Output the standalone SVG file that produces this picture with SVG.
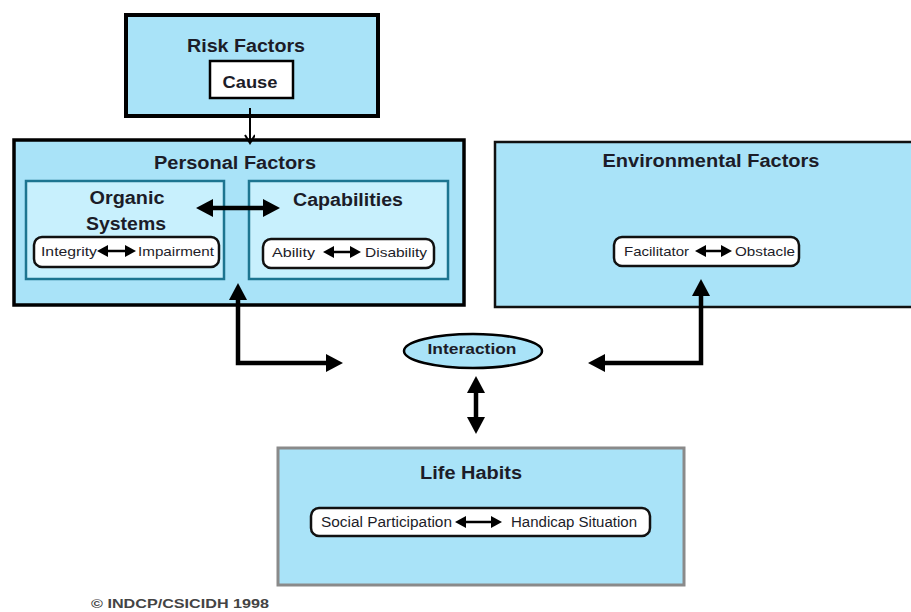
<svg xmlns="http://www.w3.org/2000/svg" width="911" height="612" viewBox="0 0 911 612">
<style>
.t{font-family:"Liberation Sans",Arial,sans-serif;font-weight:bold;fill:#1c1c28;text-anchor:middle}
.p{font-family:"Liberation Sans",Arial,sans-serif;fill:#1c1c28}
.outer{fill:#a9e3f8}
.inner{fill:#c8f0fd;stroke:#1d7590;stroke-width:2.5}
.pill{fill:#fff;stroke:#111;stroke-width:2.5}
.big{fill:none;stroke:#000;stroke-width:4.5;marker-start:url(#bh);marker-end:url(#bh)}
.sm{fill:none;stroke:#000;stroke-width:2.5;marker-start:url(#sh);marker-end:url(#sh)}
</style>
<defs>
<marker id="bh" markerUnits="userSpaceOnUse" markerWidth="18" markerHeight="20" refX="3" refY="9" orient="auto-start-reverse"><path d="M0,0 L17,9 L0,18 z" fill="#000"/></marker>
<marker id="sh" markerUnits="userSpaceOnUse" markerWidth="12" markerHeight="13" refX="2" refY="6" orient="auto-start-reverse"><path d="M0,0 L11,6 L0,12 z" fill="#000"/></marker>
<marker id="vh" markerUnits="userSpaceOnUse" markerWidth="12" markerHeight="12" refX="9" refY="5" orient="auto"><path d="M1,0 L9,5 L1,10" fill="none" stroke="#000" stroke-width="2"/></marker>
</defs>
<rect width="911" height="612" fill="#fff"/>

<g id="risk-factors">
<rect class="outer" x="126" y="15" width="252" height="101" stroke="#000" stroke-width="4"/>
<text class="t" x="246" y="52" font-size="18" textLength="118" lengthAdjust="spacingAndGlyphs">Risk Factors</text>
<g id="cause">
<rect x="210" y="61" width="83" height="37" fill="#fff" stroke="#000" stroke-width="2.5"/>
<text class="t" x="250" y="88" font-size="17" textLength="55" lengthAdjust="spacingAndGlyphs">Cause</text>
</g>
</g>

<g id="personal-factors">
<rect class="outer" x="14" y="140" width="450" height="165" stroke="#000" stroke-width="3.5"/>
<text class="t" x="235" y="169" font-size="18" textLength="162" lengthAdjust="spacingAndGlyphs">Personal Factors</text>
<g id="organic-systems">
<rect class="inner" x="26" y="181" width="198" height="98"/>
<text class="t" x="127" y="204" font-size="18" textLength="75" lengthAdjust="spacingAndGlyphs">Organic</text>
<text class="t" x="126" y="230" font-size="18" textLength="80" lengthAdjust="spacingAndGlyphs">Systems</text>
<rect class="pill" x="34" y="237" width="185" height="30" rx="8"/>
<text class="p" x="41" y="256" font-size="13" textLength="56" lengthAdjust="spacingAndGlyphs">Integrity</text>
<text class="p" x="138" y="256" font-size="13" textLength="76" lengthAdjust="spacingAndGlyphs">Impairment</text>
</g>
<g id="capabilities">
<rect class="inner" x="249" y="181" width="199" height="98"/>
<text class="t" x="348" y="206" font-size="18" textLength="110" lengthAdjust="spacingAndGlyphs">Capabilities</text>
<rect class="pill" x="263" y="239" width="171" height="29" rx="8"/>
<text class="p" x="272" y="257" font-size="13" textLength="43" lengthAdjust="spacingAndGlyphs">Ability</text>
<text class="p" x="365" y="257" font-size="13" textLength="62" lengthAdjust="spacingAndGlyphs">Disability</text>
</g>
</g>

<g id="environmental-factors">
<rect class="outer" x="495" y="142" width="430" height="165" stroke="#111" stroke-width="2.5"/>
<text class="t" x="711" y="167" font-size="18" textLength="217" lengthAdjust="spacingAndGlyphs">Environmental Factors</text>
<rect class="pill" x="614" y="237" width="185" height="29" rx="8"/>
<text class="p" x="624" y="256" font-size="13" textLength="65" lengthAdjust="spacingAndGlyphs">Facilitator</text>
<text class="p" x="735" y="256" font-size="13" textLength="60" lengthAdjust="spacingAndGlyphs">Obstacle</text>
</g>

<g id="interaction">
<ellipse cx="473" cy="351" rx="69" ry="17" fill="#a9e3f8" stroke="#000" stroke-width="2.5"/>
<text class="t" x="472" y="354" font-size="15" textLength="89" lengthAdjust="spacingAndGlyphs">Interaction</text>
</g>

<g id="life-habits">
<rect class="outer" x="278" y="448" width="406" height="137" stroke="#8a8a8a" stroke-width="3"/>
<text class="t" x="471" y="479" font-size="18" textLength="102" lengthAdjust="spacingAndGlyphs">Life Habits</text>
<rect class="pill" x="311" y="508" width="339" height="28" rx="8"/>
<text class="p" x="321" y="527" font-size="14" textLength="131" lengthAdjust="spacingAndGlyphs">Social Participation</text>
<text class="p" x="511" y="527" font-size="14" textLength="126" lengthAdjust="spacingAndGlyphs">Handicap Situation</text>
</g>

<g id="connectors">
<line x1="250" y1="108" x2="250" y2="143" stroke="#000" stroke-width="2" marker-end="url(#vh)"/>
<path class="big" d="M210,208 L266,208"/>
<path class="big" d="M238,297 L238,363 L329,363"/>
<path class="big" d="M701,293 L701,363 L602,363"/>
<path class="big" d="M476,390 L476,420"/>
<path class="sm" d="M106,251 L127,251"/>
<path class="sm" d="M332,252 L352,252"/>
<path class="sm" d="M704,251 L723,251"/>
<path class="sm" d="M464,522 L493,522"/>
</g>

<text x="91" y="608" font-family="Liberation Sans,Arial,sans-serif" font-weight="bold" font-size="12" fill="#444" textLength="178" lengthAdjust="spacingAndGlyphs">© INDCP/CSICIDH 1998</text>
</svg>
